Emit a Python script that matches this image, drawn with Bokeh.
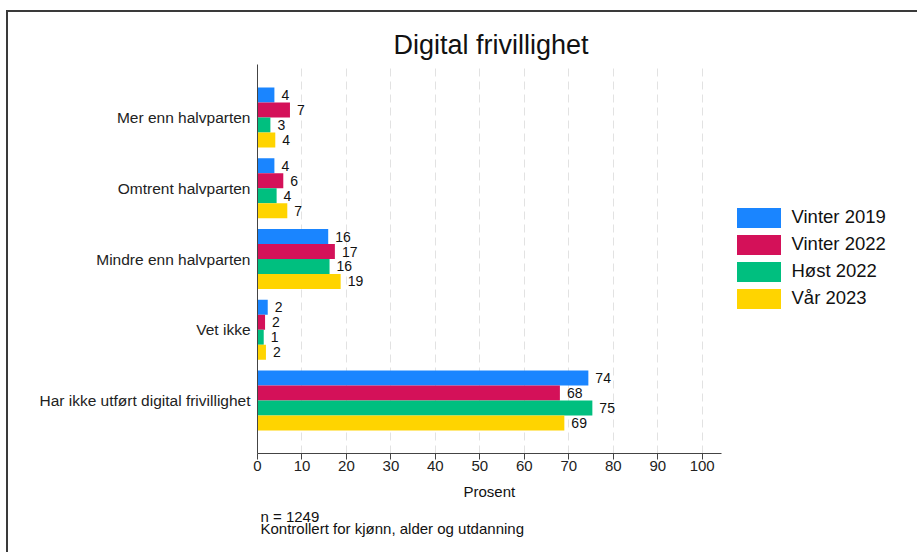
from bokeh.plotting import figure
from bokeh.models import FactorRange, Range1d, FixedTicker, Legend, LegendItem, ColumnDataSource, Title
from bokeh.transform import dodge
from bokeh.embed import file_html
from bokeh.resources import INLINE

FONT = "Liberation Sans"

categories = ["Mer enn halvparten", "Omtrent halvparten", "Mindre enn halvparten",
              "Vet ikke", "Har ikke utført digital frivillighet"]
series = ["Vinter 2019", "Vinter 2022", "Høst 2022", "Vår 2023"]
colors = ["#1A85FF", "#D41159", "#00BF7F", "#FFD400"]

vinter_2019 = [3.8, 3.8, 15.9, 2.3, 74.4]
vinter_2022 = [7.3, 5.8, 17.4, 1.7, 68.0]
host_2022 = [2.9, 4.3, 16.2, 1.4, 75.3]
var_2023 = [4.0, 6.7, 18.7, 1.9, 69.0]
values = [vinter_2019, vinter_2022, host_2022, var_2023]

x_ticks = list(range(0, 101, 10))
AXIS_END = 104.3

W, H = 911, 542
FL, FT, FB = 249, 52, 441
PX_PER_UNIT = 4.447
X_END = (W - FL) / PX_PER_UNIT

p = figure(width=W, height=H, output_backend="svg", toolbar_location=None,
           y_range=FactorRange(factors=categories[::-1], range_padding=0.1,
                               range_padding_units="percent", factor_padding=0),
           x_range=Range1d(0, X_END),
           min_border_left=FL, min_border_right=0,
           min_border_top=FT, min_border_bottom=H - FB)
p.styles = {"border-top": "2px solid #3a3a3a", "border-left": "2px solid #3a3a3a",
            "margin-left": "6px", "margin-top": "10px"}
p.outline_line_color = None
p.background_fill_color = "white"
p.border_fill_color = "white"

p.title = Title(text="Digital frivillighet", align="left", offset=136, text_font=FONT,
                text_font_size="27px", text_font_style="normal", text_color="#111111",
                standoff=9)

offsets = [0.318, 0.106, -0.106, -0.318]
bar_h = 0.212
items = []
for name, vals, col, off in zip(series, values, colors, offsets):
    src = ColumnDataSource(dict(cat=categories, val=vals,
                                lab=[str(int(round(v))) for v in vals]))
    r = p.hbar(y=dodge("cat", off, range=p.y_range), right="val", left=0, height=bar_h,
               source=src, fill_color=col, line_color=None)
    p.text(x="val", y=dodge("cat", off, range=p.y_range), text="lab", source=src,
           x_offset=7, text_align="left", text_baseline="middle",
           text_font_size="14px", text_color="#111111",
           text_font={"value": FONT})
    items.append(LegendItem(label=name, renderers=[r]))

legend = Legend(items=items, location=(473.5, 142.5), margin=0, padding=0,
                glyph_width=55, glyph_height=25, spacing=2, label_standoff=6,
                label_text_font=FONT, label_text_font_size="18.5px",
                label_text_color="#111111", border_line_color=None,
                background_fill_alpha=0, label_height=25)
p.add_layout(legend, "center")

# axes
xa = p.xaxis[0]
xa.ticker = FixedTicker(ticks=x_ticks)
xa.bounds = (0, AXIS_END)
xa.major_label_text_font = FONT
xa.major_label_text_font_size = "15px"
xa.major_label_text_color = "#222222"
xa.major_tick_out = 6
xa.major_tick_in = 0
xa.minor_tick_out = 0
xa.minor_tick_in = 0
xa.major_label_standoff = 1
xa.axis_line_color = "#444444"
xa.major_tick_line_color = "#444444"

ya = p.yaxis[0]
ya.major_tick_out = 0
ya.major_tick_in = 0
ya.minor_tick_out = 0
ya.major_label_standoff = 7
ya.major_label_text_font = FONT
ya.major_label_text_font_size = "15.5px"
ya.major_label_text_color = "#222222"
ya.axis_line_color = "#444444"

p.xgrid.ticker = FixedTicker(ticks=x_ticks[1:])
p.xgrid.grid_line_color = "#e2e2e2"
p.xgrid.grid_line_dash = "8 5"
p.ygrid.grid_line_color = None

# x-axis title, centred under the 0-104 axis span
p.add_layout(Title(text="Prosent", align="left", offset=206, text_font=FONT,
                   text_font_size="15px", text_font_style="normal",
                   text_color="#111111", standoff=14), "below")
p.add_layout(Title(text="n = 1249\nKontrollert for kjønn, alder og utdanning",
                   align="left", offset=3, text_font=FONT, text_font_size="15px",
                   text_font_style="normal", text_color="#111111", standoff=-1,
                   text_line_height=0.72), "below")

open("out.html", "w").write(file_html(p, INLINE))
